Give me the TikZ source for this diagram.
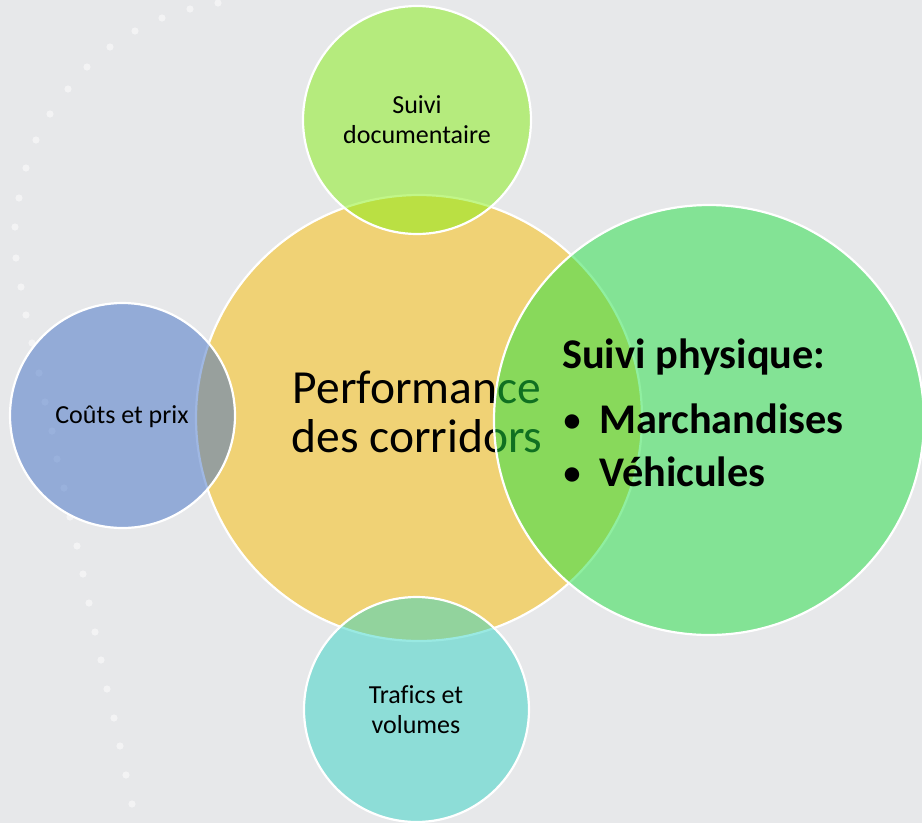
\documentclass[tikz,border=0pt]{standalone}
\usepackage{fontspec}
\setmainfont{Carlito}[Ligatures=CommonOff]
\definecolor{bgc}{RGB}{231,232,234}
\definecolor{orangec}{RGB}{240,210,117}
\definecolor{topg}{RGB}{133,238,18}
\definecolor{bluec}{RGB}{65,112,198}
\definecolor{tealc}{RGB}{53,212,198}
\definecolor{rightg}{RGB}{33,224,66}
\begin{document}
\begin{tikzpicture}[x=1pt,y=-1pt,
  bubble/.style={circle, inner sep=0pt, outer sep=0pt, draw=white, line width=2.2pt, fill opacity=0.5, draw opacity=1},
  dotc/.style={fill=white, fill opacity=0.5},
  small/.style={font=\fontsize{26}{30}\selectfont, inner sep=0pt, anchor=base},
  big/.style={font=\fontsize{47.5}{52}\selectfont, inner sep=0pt, anchor=base},
  bold/.style={font=\fontsize{42.3}{46}\selectfont\bfseries, inner sep=0pt, anchor=base west},
  bul/.style={font=\fontsize{34}{40}\selectfont\bfseries, inner sep=0pt, anchor=base}]
\fill[bgc] (0,0) rectangle (922,823);
\useasboundingbox (0,0) rectangle (922,823);
% dotted arc
\foreach \px/\py in {218/3,190/9,162/18,135/31,110/47,87/67,68/89,50/114,36/140,26/168,19/198,15/227,16/258,21/287,26/315,32/343,39/373,45/402,52/431,57/459,64/488,70/517,77/546,83/574,89/603,95/632,101/660,107/689,114/718,120/746,126/775,132/804,139/832}
  \fill[dotc] (\px,\py) circle (3.6);
% central circle
\node[circle, inner sep=0pt, outer sep=0pt, draw=white, line width=2.2pt, fill=orangec, minimum size=446pt] (perf) at (419,418) {};
\node[big] (perf1) at (417,403) {Performance};
\node[big] (perf2) at (417,452) {des corridors};
% satellites
\node[bubble, fill=topg, minimum size=228pt] (doc) at (417,120) {};
\node[bubble, fill=bluec, minimum size=225pt] (cout) at (122.5,415.5) {};
\node[bubble, fill=tealc, minimum size=225pt] (traf) at (416.5,709.5) {};
\node[bubble, fill=rightg, minimum size=430pt] (phys) at (709,420) {};
% labels
\node[small] (doc1) at (417,113) {Suivi};
\node[small] (doc2) at (417,143) {documentaire};
\node[small] (cout1) at (122,423) {Coûts et prix};
\node[small] (traf1) at (416,703) {Trafics et};
\node[small] (traf2) at (416,733) {volumes};
\node[bold] (ph0) at (562,368) {Suivi physique:};
\node[bul] (b1) at (572,431) {•};
\node[bold] (ph1) at (599,433) {Marchandises};
\node[bul] (b2) at (572,484) {•};
\node[bold] (ph2) at (599,486) {Véhicules};
\end{tikzpicture}
\end{document}
